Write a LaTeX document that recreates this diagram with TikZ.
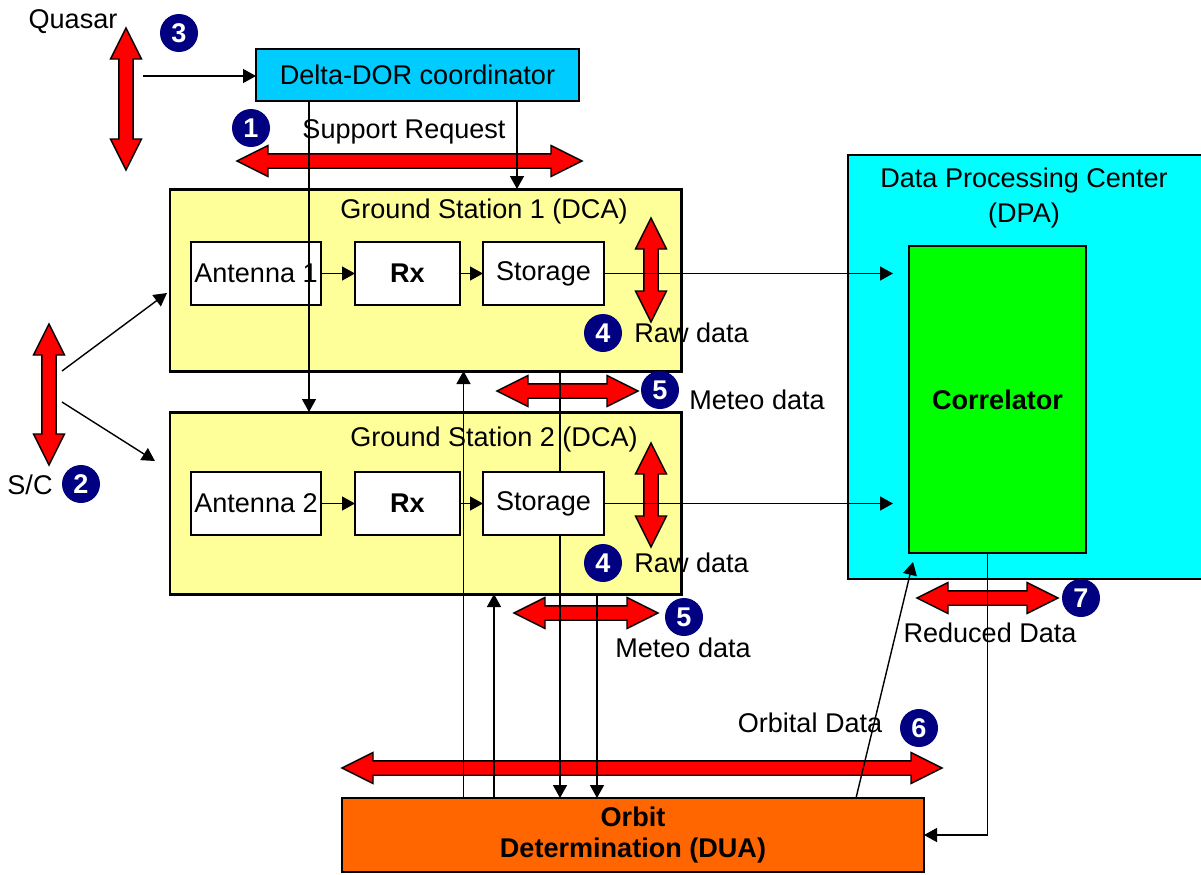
\documentclass[tikz,border=0pt]{standalone}
\usepackage{fontspec}
\setmainfont{Liberation Sans}
\usetikzlibrary{arrows.meta,calc}

\definecolor{navy}{RGB}{0,0,128}
\definecolor{gsyellow}{RGB}{255,255,153}
\definecolor{dorcyan}{RGB}{0,204,255}
\definecolor{dpccyan}{RGB}{0,255,255}
\definecolor{corrgreen}{RGB}{0,255,0}
\definecolor{orbitorange}{RGB}{255,102,0}

\tikzset{
	bigbox/.style={draw, rectangle, inner sep=0pt, outer sep=0pt, line width=0.85pt},
	midbox/.style={draw, rectangle, inner sep=0pt, outer sep=0pt, line width=0.6pt},
	smallbox/.style={draw, rectangle, fill=white, inner sep=0pt, outer sep=0pt, line width=0.4pt, minimum height=0.63cm},
	conn/.style={-{Triangle[length=0.13cm,width=0.14cm]}, line width=0.4pt},
	redarr/.style={draw=black, fill=red, line width=0.4pt, line join=miter},
	num/.style={circle, fill=navy, text=white, inner sep=0pt, minimum size=0.38cm, font=\fontsize{7.7}{9.2}\selectfont\bfseries}
}

% double red arrows: from x1 to x2 at y / at x from y1 to y2
\newcommand{\hredarrow}[3]{\draw[redarr] (#1,#3) -- ({#1+0.31},{#3-0.155}) -- ({#1+0.31},{#3-0.072}) -- ({#2-0.31},{#3-0.072}) -- ({#2-0.31},{#3-0.155}) -- (#2,#3) -- ({#2-0.31},{#3+0.155}) -- ({#2-0.31},{#3+0.072}) -- ({#1+0.31},{#3+0.072}) -- ({#1+0.31},{#3+0.155}) -- cycle;}
\newcommand{\vredarrow}[3]{\draw[redarr] (#1,#2) -- ({#1-0.155},{#2+0.31}) -- ({#1-0.072},{#2+0.31}) -- ({#1-0.072},{#3-0.31}) -- ({#1-0.155},{#3-0.31}) -- (#1,#3) -- ({#1+0.155},{#3-0.31}) -- ({#1+0.072},{#3-0.31}) -- ({#1+0.072},{#2+0.31}) -- ({#1+0.155},{#2+0.31}) -- cycle;}

\begin{document}
\begin{tikzpicture}[x=1cm,y=-1cm]
	\tikzstyle{every node}=[font=\fontsize{7.7}{9.2}\selectfont]
	\clip (0,0) rectangle (12.01,8.74);
	
	% big boxes
	\node[bigbox, fill=gsyellow, minimum width=5.11cm, minimum height=1.82cm] (gsone) at (4.255,2.80) {};
	\node[bigbox, fill=gsyellow, minimum width=5.11cm, minimum height=1.82cm] (gstwo) at (4.255,5.03) {};
	\node[midbox, fill=dpccyan, minimum width=3.70cm, minimum height=4.24cm] (dpc) at (10.33,3.67) {};
	\node[midbox, fill=corrgreen, minimum width=1.77cm, minimum height=3.07cm, font=\fontsize{7.7}{9.2}\selectfont\bfseries] (corr) at (9.975,3.995) {Correlator};
	\node[midbox, fill=dorcyan, line width=0.7pt, minimum width=3.23cm, minimum height=0.52cm] (delta) at (4.175,0.75) {Delta-DOR coordinator};
	\node[midbox, fill=orbitorange, minimum width=5.82cm, minimum height=0.74cm, align=center, font=\fontsize{7.7}{8.9}\selectfont\bfseries] (orbit) at (6.33,8.35) {\raisebox{-1.2pt}{Orbit}\\\raisebox{-1.2pt}{Determination (DUA)}};
	
	% red arrows
	\vredarrow{1.26}{0.28}{1.70}
	\hredarrow{2.37}{5.82}{1.61}
	\vredarrow{0.49}{3.24}{4.65}
	\vredarrow{6.51}{2.18}{3.22}
	\vredarrow{6.51}{4.43}{5.47}
	\hredarrow{4.97}{6.38}{3.91}
	\hredarrow{5.14}{6.58}{6.13}
	\hredarrow{9.17}{10.58}{5.98}
	\hredarrow{3.42}{9.42}{7.68}
	
	% lines between stations and orbit determination
	\coordinate (xa) at (4.635,0);
	\coordinate (xb) at (4.94,0);
	\coordinate (xc) at (5.60,0);
	\coordinate (xd) at (5.97,0);
	\draw[conn] (orbit.north -| xa) -- (gsone.south -| xa);
	\draw[conn] (orbit.north -| xb) -- (gstwo.south -| xb);
	\draw[conn] (gsone.south -| xc) -- (orbit.north -| xc);
	\draw[conn] (gstwo.south -| xd) -- (orbit.north -| xd);
	
	% station chains
	\node[smallbox, minimum width=1.30cm] (antone) at (2.56,2.735) {Antenna 1};
	\node[smallbox, minimum width=1.05cm, font=\fontsize{7.7}{9.2}\selectfont\bfseries] (rxone) at (4.075,2.735) {Rx};
	\node[smallbox, minimum width=1.21cm] (stone) at (5.435,2.735) {Storage};
	\node[smallbox, minimum width=1.30cm] (anttwo) at (2.56,5.035) {Antenna 2};
	\node[smallbox, minimum width=1.05cm, font=\fontsize{7.7}{9.2}\selectfont\bfseries] (rxtwo) at (4.075,5.035) {Rx};
	\node[smallbox, minimum width=1.21cm] (sttwo) at (5.435,5.035) {Storage};
	\node (gsonetitle) at (4.84,2.11) {Ground Station 1 (DCA)};
	\node (gstwotitle) at (4.94,4.39) {Ground Station 2 (DCA)};
	\node[align=center, font=\fontsize{7.7}{9.7}\selectfont] (dpctitle) at (10.24,1.98) {Data Processing Center\\(DPA)};
	
	\draw[conn] (antone) -- (rxone);
	\draw[conn] (rxone) -- (stone);
	\draw[conn] (anttwo) -- (rxtwo);
	\draw[conn] (rxtwo) -- (sttwo);
	\coordinate (dpcin) at (8.93,0);
	\draw[conn] (stone.east) -- (stone.east -| dpcin);
	\draw[conn] (sttwo.east) -- (sttwo.east -| dpcin);
	
	% coordinator
	\coordinate (xe) at (3.09,0);
	\coordinate (xf) at (5.17,0);
	\coordinate (qs) at (1.43,0.76);
	\draw[conn] (delta.south -| xf) -- (gsone.north -| xf);
	\draw[conn] (delta.south -| xe) -- (gstwo.north -| xe);
	\draw[conn] (qs) -- (delta.west |- qs);
	
	% spacecraft
	\coordinate (scup) at (0.62,3.71);
	\coordinate (scdn) at (0.62,4.02);
	\coordinate (gsonein) at (1.67,2.93);
	\coordinate (gstwoin) at (1.55,4.61);
	\draw[conn] (scup) -- (gsonein);
	\draw[conn] (scdn) -- (gstwoin);
	
	% correlator and orbit determination
	\coordinate (ob) at (8.56,0);
	\coordinate (corrin) at (9.13,5.62);
	\coordinate (cb) at (9.877,0);
	\draw[conn] (orbit.north -| ob) -- (corrin);
	\draw[conn] (corr.south -| cb) |- (orbit.east);
	
	% labels
	\node (quasar) at (0.73,0.22) {Quasar};
	\node (supreq) at (4.04,1.32) {Support Request};
	\node[anchor=west] (rawone) at (6.22,3.33) {Raw data};
	\node (meteoone) at (7.57,4.00) {Meteo data};
	\node[anchor=west] (rawtwo) at (6.22,5.63) {Raw data};
	\node (meteotwo) at (6.83,6.48) {Meteo data};
	\node (reduced) at (9.90,6.33) {Reduced Data};
	\node (orbital) at (8.10,7.23) {Orbital Data};
	\node (sc) at (0.30,4.85) {S/C};
	
	\node[num] (n1) at (2.51,1.28) {1};
	\node[num] (n2) at (0.81,4.84) {2};
	\node[num] (n3) at (1.79,0.33) {3};
	\node[num] (n4a) at (6.03,3.33) {4};
	\node[num] (n4b) at (6.03,5.63) {4};
	\node[num] (n5a) at (6.60,3.90) {5};
	\node[num] (n5b) at (6.84,6.17) {5};
	\node[num] (n6) at (9.19,7.28) {6};
	\node[num] (n7) at (10.81,5.98) {7};
	
\end{tikzpicture}
\end{document}
